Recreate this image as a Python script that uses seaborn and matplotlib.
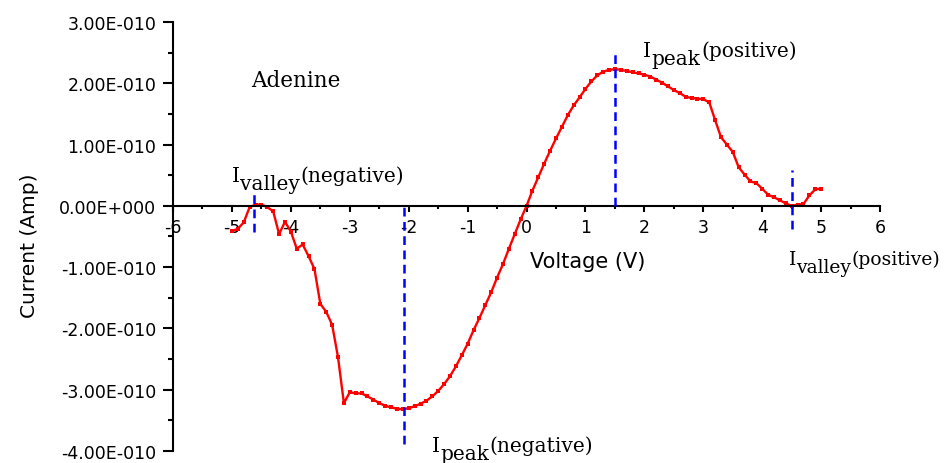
import numpy as np
import matplotlib
matplotlib.use('Agg')
import matplotlib.pyplot as plt
from matplotlib.ticker import MultipleLocator
import seaborn as sns

# I-V data for Adenine, current given in units of 1E-010 A
voltage = np.round(np.arange(-5.0, 5.01, 0.1), 1)
current_e10 = [
    -0.41, -0.375, -0.27, -0.02, 0.02, 0.02, -0.02, -0.09, -0.46, -0.26,
    -0.42, -0.70, -0.63, -0.82, -1.03, -1.60, -1.73, -1.94, -2.47, -3.22,
    -3.04, -3.06, -3.06, -3.11, -3.16, -3.22, -3.26, -3.29, -3.31, -3.32,
    -3.30, -3.27, -3.23, -3.18, -3.11, -3.02, -2.91, -2.78, -2.62, -2.44,
    -2.25, -2.03, -1.83, -1.62, -1.41, -1.17, -0.95, -0.70, -0.46, -0.22,
    0.0, 0.25, 0.47, 0.69, 0.90, 1.10, 1.29, 1.48, 1.64, 1.77,
    1.91, 2.03, 2.13, 2.19, 2.22, 2.23, 2.22, 2.20, 2.18, 2.16,
    2.14, 2.11, 2.06, 2.01, 1.95, 1.89, 1.84, 1.78, 1.76, 1.75,
    1.74, 1.69, 1.40, 1.12, 1.00, 0.88, 0.63, 0.51, 0.40, 0.37,
    0.28, 0.18, 0.14, 0.09, 0.04, 0.00, 0.02, 0.03, 0.17, 0.27,
    0.28,
]
current = np.array(current_e10) * 1e-10

# blue dashed markers for peaks / valleys (x in V, y in 1E-010 A)
mark_x = [-4.62, -2.08, 1.5, 4.5]
mark_top = [0.25, 0.0, 2.48, 0.58]
mark_bottom = [-0.43, -3.88, 0.0, -0.38]

x_ticks = [-6, -5, -4, -3, -2, -1, 0, 1, 2, 3, 4, 5, 6]
x_ticklabels = ['-6', '-5', '-4', '-3', '-2', '-1', '0', '1', '2', '3', '4', '5', '6']
y_ticks = [-4e-10, -3e-10, -2e-10, -1e-10, 0.0, 1e-10, 2e-10, 3e-10]
y_ticklabels = ['-4.00E-010', '-3.00E-010', '-2.00E-010', '-1.00E-010',
                '0.00E+000', '1.00E-010', '2.00E-010', '3.00E-010']

sns.set_style('ticks')
plt.rcParams['font.family'] = ['DejaVu Sans']
plt.rcParams['axes.unicode_minus'] = False
for key in ['text.color', 'axes.labelcolor', 'axes.edgecolor',
            'xtick.color', 'ytick.color']:
    plt.rcParams[key] = 'black'

fig = plt.figure(figsize=(9.44, 4.64), dpi=100)
ax = fig.add_axes([0.1833, 0.0259, 0.749, 0.9245])

sns.lineplot(x=voltage, y=current, color='#ff0000', linewidth=1.7,
             marker='s', markersize=3.4, markeredgewidth=0, ax=ax)

ax.vlines(mark_x, np.array(mark_bottom) * 1e-10, np.array(mark_top) * 1e-10,
          colors='#0000ff', linewidth=1.8, linestyles=(0, (3.5, 2.2)), zorder=3)

ax.set_xlim(-6, 6)
ax.set_ylim(-4e-10, 3e-10)

ax.spines['top'].set_visible(False)
ax.spines['right'].set_visible(False)
ax.spines['bottom'].set_position(('data', 0))
ax.spines['left'].set_linewidth(1.5)
ax.spines['bottom'].set_linewidth(1.5)

ax.set_xticks(x_ticks)
ax.set_xticklabels(x_ticklabels)
ax.set_yticks(y_ticks)
ax.set_yticklabels(y_ticklabels)
ax.xaxis.set_minor_locator(MultipleLocator(0.5))
ax.yaxis.set_minor_locator(MultipleLocator(0.5e-10))
ax.tick_params(axis='x', which='major', direction='out', length=4.5, width=1.5,
               labelsize=12.5, pad=4)
ax.tick_params(axis='x', which='minor', direction='out', length=2.5, width=1.5)
ax.tick_params(axis='y', which='major', direction='out', length=7, width=1.5,
               labelsize=12.5, pad=5)
ax.tick_params(axis='y', which='minor', direction='out', length=3.5, width=1.5)

ax.set_xlabel('')
ax.set_ylabel('Current (Amp)', fontsize=14.5)
ax.yaxis.set_label_coords(-0.19, 0.48)
ax.text(0.06, -1.0e-10, 'Voltage (V)', fontsize=15, ha='left', va='baseline')

ax.text(-4.68, 1.96e-10, 'Adenine', fontsize=15.5, family='DejaVu Serif',
        ha='left', va='baseline')


def level_label(x, y, sub, sup, size=14.5):
    base = ax.text(x, y * 1e-10, 'I', fontsize=size, family='DejaVu Serif',
                   ha='left', va='baseline', clip_on=False)
    low = ax.annotate(sub, xy=(1, 0), xycoords=base, xytext=(0.3, -6),
                      textcoords='offset points', fontsize=size,
                      family='DejaVu Serif', ha='left', va='bottom',
                      annotation_clip=False)
    ax.annotate(sup, xy=(1, 0), xycoords=(low, base), xytext=(0.3, 0),
                textcoords='offset points', fontsize=size,
                family='DejaVu Serif', ha='left', va='bottom',
                annotation_clip=False)


level_label(-5.0, 0.41, 'valley', '(negative)')
level_label(1.98, 2.45, 'peak', '(positive)')
level_label(4.45, -0.95, 'valley', '(positive)', size=13.5)
level_label(-1.61, -4.0, 'peak', '(negative)')

fig.savefig('out.png', dpi=100)
